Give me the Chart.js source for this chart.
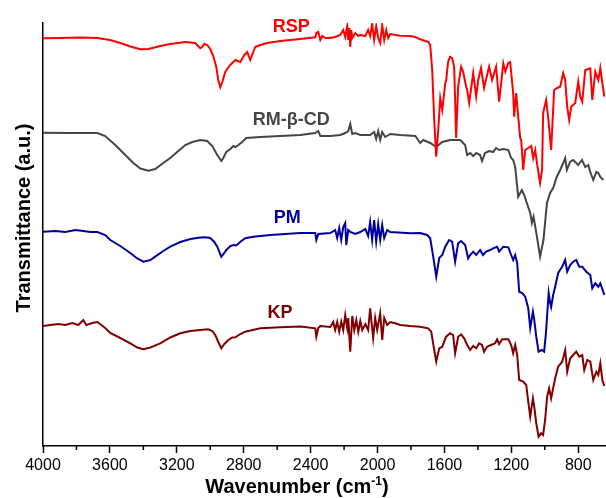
<!DOCTYPE html>
<html>
<head>
<meta charset="utf-8">
<script src="https://cdn.jsdelivr.net/npm/chart.js@4.4.1/dist/chart.umd.min.js"></script>
<style>
  html, body { margin: 0; padding: 0; background: #fff; }
  #wrap { width: 606px; height: 498px; }
</style>
</head>
<body>
<div id="wrap"><canvas id="ftir" width="606" height="498"></canvas></div>
<script>
// FTIR spectra: [wavenumber (cm-1), transmittance (a.u., stacked)]
const rspSpectrum = [
  [4000,407.7],[3897,408],[3777,408.5],[3675,408],[3657,407.5],[3598,406],[3538,403],[3478,399.5],
  [3418,396.7],[3370,397],[3299,400],[3239,402],[3149,404],[3090,403],[3060,397.7],[3048,399],
  [3036,402],[3018,401],[3000,397],[2982,390],[2964,379],[2952,366],[2940,358.7],[2928,364],
  [2910,374.3],[2880,381],[2850,386],[2820,384],[2797,391],[2779,394],[2761,386],[2743,394],
  [2731,399],[2701,401],[2659,403],[2581,405],[2462,407],[2372,408.7],[2366,413],[2354,414],
  [2342,406],[2330,410],[2312,408],[2282,408],[2253,409],[2223,411],[2205,416],[2193,409],
  [2181,420],[2175,406],[2169,418],[2163,399],[2157,416],[2151,408],[2133,413],[2115,410],
  [2103,411],[2073,410],[2056,416],[2044,410],[2032,422],[2020,406],[2008,420],[1996,408],
  [1984,403],[1972,421],[1960,406],[1948,416],[1936,408],[1924,412],[1864,410.3],[1804,410],
  [1774,409],[1745,406.7],[1715,405],[1697,404.3],[1685,401],[1673,376],[1661,326],[1649,289.3],
  [1637,316],[1625,348],[1613,336],[1595,363],[1590,365],[1578,384],[1566,389.3],[1554,388],
  [1542,379.3],[1536,346],[1530,308],[1518,359.3],[1500,379.3],[1488,374.3],[1470,359.3],[1464,356],
  [1452,343],[1428,373],[1410,349.3],[1398,366],[1381,378],[1363,358],[1333,379.3],[1315,366],
  [1291,379.3],[1273,344.3],[1248,382.7],[1236,374.3],[1218,383],[1207,384],[1189,353],[1183,329.3],
  [1171,353],[1159,329.3],[1147,308],[1141,306],[1129,276],[1117,296],[1099,298],[1081,300],
  [1069,288],[1057,296],[1045,281],[1028,263],[1016,276],[1010,333],[992,346],[980,329],
  [962,296],[944,356],[926,358],[908,359.3],[890,373],[878,366],[866,339.3],[854,326],
  [842,339.3],[818,343],[800,364.3],[788,349.3],[776,344.3],[758,376],[728,377.7],[716,346],
  [698,374.3],[680,366],[668,378],[656,363],[644,349.3]
];

const rmbcdSpectrum = [
  [4000,313.3],[3837,313],[3675,313],[3628,310],[3568,301],[3508,291],[3460,283],[3418,277.5],
  [3370,275.3],[3329,277],[3281,283],[3239,288],[3191,295],[3149,301],[3107,304],[3060,306],
  [3018,305],[2988,300],[2958,291],[2934,285],[2922,288],[2904,294],[2880,297],[2862,300],
  [2850,299],[2832,301],[2809,304],[2785,308],[2701,309],[2462,311],[2372,313],[2354,315],
  [2342,310],[2282,310],[2223,311],[2193,313],[2175,315],[2163,322],[2151,312],[2133,313],
  [2103,311],[2044,311],[2020,314],[2008,307],[1996,315],[1984,306],[1972,314],[1954,309],
  [1924,312],[1864,311],[1774,310],[1745,303],[1727,306],[1685,303],[1649,299],[1613,304],
  [1566,306],[1506,306],[1476,301],[1464,291],[1446,293],[1428,290],[1410,293],[1387,291],
  [1375,285],[1357,293],[1333,295],[1309,294],[1291,298],[1273,296],[1248,297],[1218,296],
  [1201,288],[1189,286],[1177,279],[1159,249.3],[1137,256],[1123,251],[1107,242.7],[1087,233],
  [1077,223],[1067,229.3],[1047,209.3],[1028,189.3],[1008,206],[987,243],[968,253],[950,258],
  [928,269.3],[908,276],[890,283],[878,288],[868,276],[848,284.3],[830,286],[800,281],
  [778,286],[758,279],[740,281],[728,274],[710,266],[692,274],[680,273],[668,269],[650,266]
];

const pmSpectrum = [
  [4000,214.3],[3926,215],[3867,214],[3807,216],[3759,215],[3717,214],[3675,214],[3628,211],
  [3598,206],[3538,200],[3478,193],[3436,187.5],[3400,184.3],[3358,186],[3329,189.3],[3281,195],
  [3239,199.3],[3179,204],[3119,207],[3060,208.5],[3030,208.7],[3000,208],[2976,204],[2958,199.3],
  [2934,189.3],[2916,193],[2904,196],[2880,200],[2862,201],[2844,200.5],[2820,204.3],[2791,207.7],
  [2743,209.3],[2641,211],[2462,213],[2372,213],[2366,206],[2354,212],[2282,213],[2253,216],
  [2241,208],[2229,218],[2217,206],[2205,219],[2193,223],[2187,201],[2175,216],[2163,214],
  [2133,212],[2103,214],[2073,217],[2056,210],[2044,224],[2032,206],[2020,226],[2008,204.3],
  [1996,222],[1984,206],[1972,221],[1960,208],[1942,216],[1924,214],[1804,212.7],[1745,213],
  [1703,211],[1685,207.7],[1667,189.3],[1649,169.3],[1631,188],[1613,191],[1595,199.3],[1572,206],
  [1554,204.3],[1536,184.3],[1518,202.7],[1500,205],[1476,201],[1458,187.7],[1446,191],[1428,194.3],
  [1410,191],[1387,196],[1369,191],[1351,194.3],[1327,196],[1309,197.7],[1285,199.3],[1273,194.3],
  [1248,199.3],[1218,198.7],[1201,191],[1189,186],[1177,191],[1165,183],[1153,154.3],[1135,153],
  [1117,149.3],[1099,138],[1087,118],[1071,134.3],[1063,126],[1051,109.3],[1037,94.3],[1018,96],
  [1004,94.3],[993,113],[981,143],[977,153],[968,143],[962,139],[950,151],[938,159.3],
  [920,173],[896,179.3],[878,186],[866,174.3],[848,181],[830,184.3],[812,186],[794,179.3],
  [776,179.3],[752,174.3],[728,171],[716,157.7],[698,162.7],[680,159.3],[668,162.7],[644,151]
];

const kpSpectrum = [
  [4000,120],[3956,121],[3909,122],[3867,121],[3825,123],[3789,121],[3759,126],[3741,121],
  [3705,123],[3675,124],[3657,121.7],[3628,118],[3598,113],[3538,108],[3478,102.7],[3436,98.5],
  [3400,96.7],[3358,98.5],[3299,102.7],[3239,108.5],[3179,112.7],[3119,115],[3060,116],[3012,116.7],
  [2988,115],[2970,111],[2952,104],[2934,97.7],[2916,102],[2892,106],[2868,108.5],[2850,108.7],
  [2820,112],[2791,114.3],[2701,117.7],[2581,118.7],[2462,119.5],[2372,117.7],[2366,109.3],[2354,118],
  [2342,120],[2282,119],[2265,124],[2253,116],[2241,124],[2229,114.3],[2217,124.3],[2205,116],
  [2193,131],[2181,118],[2175,128],[2163,94.3],[2151,130],[2139,116],[2127,126],[2115,114],
  [2103,125],[2091,116],[2073,122],[2056,116],[2044,137.7],[2026,108],[2014,128],[2002,116],
  [1984,132.7],[1972,106],[1960,128],[1942,121],[1924,124],[1894,122.7],[1864,121],[1804,120],
  [1745,119.3],[1697,117.7],[1679,114.3],[1661,96],[1649,84.3],[1631,97.7],[1613,99.3],[1590,109.3],
  [1566,112.7],[1548,111],[1536,92.7],[1518,109.3],[1500,111.7],[1482,107.7],[1464,101],[1446,96],
  [1428,100],[1410,97.7],[1393,102.7],[1375,101],[1363,94.3],[1345,99.3],[1321,101],[1297,102.7],
  [1285,106.7],[1273,102],[1255,106.7],[1218,106.7],[1201,101],[1189,92.7],[1177,101],[1165,91],
  [1153,66],[1129,64.3],[1111,61],[1099,44.3],[1087,29.3],[1071,47.7],[1063,39.3],[1051,22.7],
  [1037,9.3],[1022,12.7],[1010,11],[998,26],[986,49.3],[974,57.7],[962,47.7],[938,67.7],
  [920,79.3],[896,84.3],[878,96],[866,74.3],[848,87.7],[830,91],[812,94.3],[794,89.3],
  [776,91],[764,76],[746,86],[728,84.3],[710,66],[692,74.3],[680,71],[668,82.7],[656,66],[644,60]
];

const seriesNames = ['RSP', 'RM-\u03B2-CD', 'PM', 'KP'];
const seriesColors = ['#ff0000', '#454545', '#0000a0', '#800000'];
// label anchor for each spectrum name: [wavenumber, transmittance]
const labelAnchors = [[2516, 414.3], [2516, 321], [2540, 222.7], [2583, 127.7]];

const majorTicks = [4000, 3600, 3200, 2800, 2400, 2000, 1600, 1200, 800];
const minorTicks = [3800, 3400, 3000, 2600, 2200, 1800, 1400, 1000];

const FONT = "'Liberation Sans', Arial, Helvetica, sans-serif";

const decorations = {
  id: 'decorations',
  afterDraw(chart) {
    const { ctx, chartArea, scales: { x, y } } = chart;
    ctx.save();

    // minor ticks on the wavenumber axis
    ctx.strokeStyle = '#000';
    ctx.lineWidth = 1.5;
    minorTicks.forEach(v => {
      const px = x.getPixelForValue(v);
      ctx.beginPath();
      ctx.moveTo(px, chartArea.bottom);
      ctx.lineTo(px, chartArea.bottom + 4);
      ctx.stroke();
    });

    // spectrum names
    ctx.font = 'bold 18px ' + FONT;
    ctx.textAlign = 'center';
    ctx.textBaseline = 'alphabetic';
    seriesNames.forEach((name, i) => {
      ctx.fillStyle = seriesColors[i];
      ctx.fillText(name, x.getPixelForValue(labelAnchors[i][0]), y.getPixelForValue(labelAnchors[i][1]));
    });

    // x axis title with superscript
    ctx.fillStyle = '#000';
    const main = 'Wavenumber (cm', sup = '-1', tail = ')';
    ctx.font = 'bold 20px ' + FONT;
    const w1 = ctx.measureText(main).width;
    const w3 = ctx.measureText(tail).width;
    ctx.font = 'bold 12px ' + FONT;
    const w2 = ctx.measureText(sup).width;
    const cx = 297, base = 493;
    let sx = cx - (w1 + w2 + w3) / 2;
    ctx.textAlign = 'left';
    ctx.font = 'bold 20px ' + FONT;
    ctx.fillText(main, sx, base);
    ctx.font = 'bold 12px ' + FONT;
    ctx.fillText(sup, sx + w1, base - 8);
    ctx.font = 'bold 20px ' + FONT;
    ctx.fillText(tail, sx + w1 + w2, base);

    // y axis title
    ctx.translate(30, 218);
    ctx.rotate(-Math.PI / 2);
    ctx.textAlign = 'center';
    ctx.fillText('Transmittance (a.u.)', 0, 0);

    ctx.restore();
  }
};

const toPoints = arr => arr.map(([w, t]) => ({ x: w, y: t }));
const spectra = [rspSpectrum, rmbcdSpectrum, pmSpectrum, kpSpectrum];

new Chart(document.getElementById('ftir'), {
  type: 'line',
  data: {
    datasets: spectra.map((s, i) => ({
      label: seriesNames[i],
      data: toPoints(s),
      borderColor: seriesColors[i],
      borderWidth: 2,
      pointRadius: 0,
      tension: 0,
      fill: false
    }))
  },
  options: {
    responsive: false,
    devicePixelRatio: 1,
    animation: false,
    events: [],
    layout: { padding: { left: 43, right: 1, top: 23, bottom: 0 } },
    plugins: { legend: { display: false }, tooltip: { enabled: false }, title: { display: false } },
    scales: {
      x: {
        type: 'linear',
        min: 640,
        max: 4000,
        reverse: true,
        afterBuildTicks: s => { s.ticks = majorTicks.map(v => ({ value: v })); },
        afterFit: s => { s.height = 52; },
        border: { display: true, color: '#000', width: 1.5 },
        grid: { display: true, drawOnChartArea: false, drawTicks: true, tickLength: 7, tickColor: '#000', tickWidth: 1.5 },
        ticks: {
          color: '#000',
          font: { family: FONT, size: 16 },
          padding: 3,
          maxRotation: 0,
          autoSkip: false,
          callback: v => String(v)
        }
      },
      y: {
        type: 'linear',
        min: 0,
        max: 423,
        afterFit: s => { s.width = 0; },
        border: { display: true, color: '#000', width: 1.5 },
        grid: { display: false },
        ticks: { display: false }
      }
    }
  },
  plugins: [decorations]
});
</script>
</body>
</html>
